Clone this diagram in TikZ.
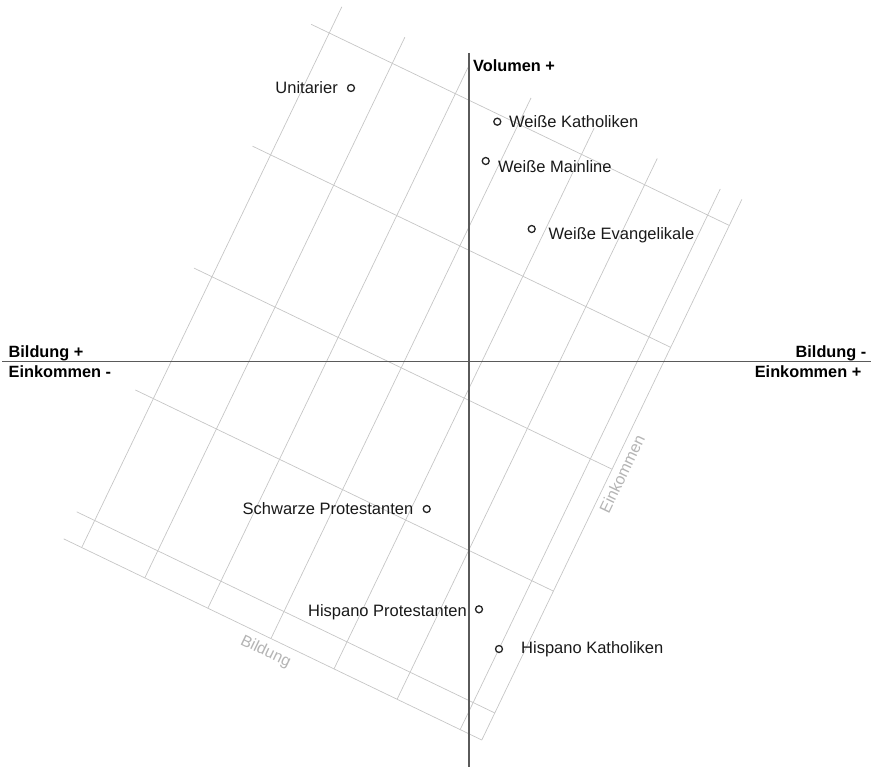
\documentclass[tikz,border=0pt]{standalone}
\usepackage{fontspec}
\setmainfont{Liberation Sans}
\begin{document}
\begin{tikzpicture}[x=1bp,y=-1bp,
  gridline/.style={draw=gridgray,line width=0.7bp},
  axisline/.style={draw=axisgray,line width=1.5bp},
  axislbl/.style={inner sep=0pt,text=black,font=\fontsize{16.3bp}{19bp}\selectfont\bfseries},
  scalelbl/.style={inner sep=0pt,text=scalegray,font=\fontsize{16bp}{19bp}\selectfont},
  grouplbl/.style={inner sep=0pt,text=black!90,font=\fontsize{16.5bp}{19bp}\selectfont},
  dot/.style={circle,draw=black!85,fill=white,line width=1.3bp,inner sep=0pt,minimum size=7bp}]
\definecolor{gridgray}{HTML}{C6C6C6}
\definecolor{axisgray}{HTML}{5A5A5A}
\definecolor{scalegray}{HTML}{B4B4B4}
\useasboundingbox (0,0) rectangle (871,767);

% tilted Bildung/Einkommen grid (s runs along Bildung, t along Einkommen)
\begin{scope}[x={(0.9011bp,-0.4335bp)},y={(0.4335bp,0.9011bp)}]
  \foreach \t in {-458,-428,-292.75,-157.5,-22.25,113}
    \draw[gridline] (291,\t) -- (755,\t);
  \foreach \s in {311,381,451,521,591,661,731,755}
    \draw[gridline] (\s,-458) -- (\s,142);
  \node[scalelbl,rotate=-25.69] (bild) at (522,-472.5) {Bildung};
  \node[scalelbl,rotate=64.31] (eink) at (766,-157.5) {Einkommen};
\end{scope}

% main axes
\coordinate (hl) at (2,361.5);
\coordinate (hr) at (871,361.5);
\coordinate (vt) at (469,53);
\coordinate (vb) at (469,767);
\draw[axisline] (hl) -- (hr);
\draw[axisline] (vt) -- (vb);

\node[axislbl,anchor=base west] (vol) at (473,71.5) {Volumen +};
\node[axislbl,anchor=base west] (bplus) at (8.5,357.7) {Bildung +};
\node[axislbl,anchor=base west] (eminus) at (8.5,377.7) {Einkommen -};
\node[axislbl,anchor=base east] (bminus) at (866.5,357.7) {Bildung -};
\node[axislbl,anchor=base east] (eplus) at (861.5,377.7) {Einkommen +};

% religious groups
\node[dot] (unit) at (351,88) {};
\node[grouplbl,anchor=base east] (unitl) at (338,93.3) {Unitarier};

\node[dot] (wk) at (497.3,121.7) {};
\node[grouplbl,anchor=base west] (wkl) at (509,127.4) {Weiße Katholiken};

\node[dot] (wm) at (485.7,161) {};
\node[grouplbl,anchor=base west] (wml) at (498,172.3) {Weiße Mainline};

\node[dot] (we) at (531.7,229) {};
\node[grouplbl,anchor=base west] (wel) at (548.5,239) {Weiße Evangelikale};

\node[dot] (sp) at (426.7,509) {};
\node[grouplbl,anchor=base east] (spl) at (413.5,514.3) {Schwarze Protestanten};

\node[dot] (hp) at (479,609.3) {};
\node[grouplbl,anchor=base east] (hpl) at (467,616) {Hispano Protestanten};

\node[dot] (hk) at (499,649) {};
\node[grouplbl,anchor=base west] (hkl) at (521,653.3) {Hispano Katholiken};
\end{tikzpicture}
\end{document}
